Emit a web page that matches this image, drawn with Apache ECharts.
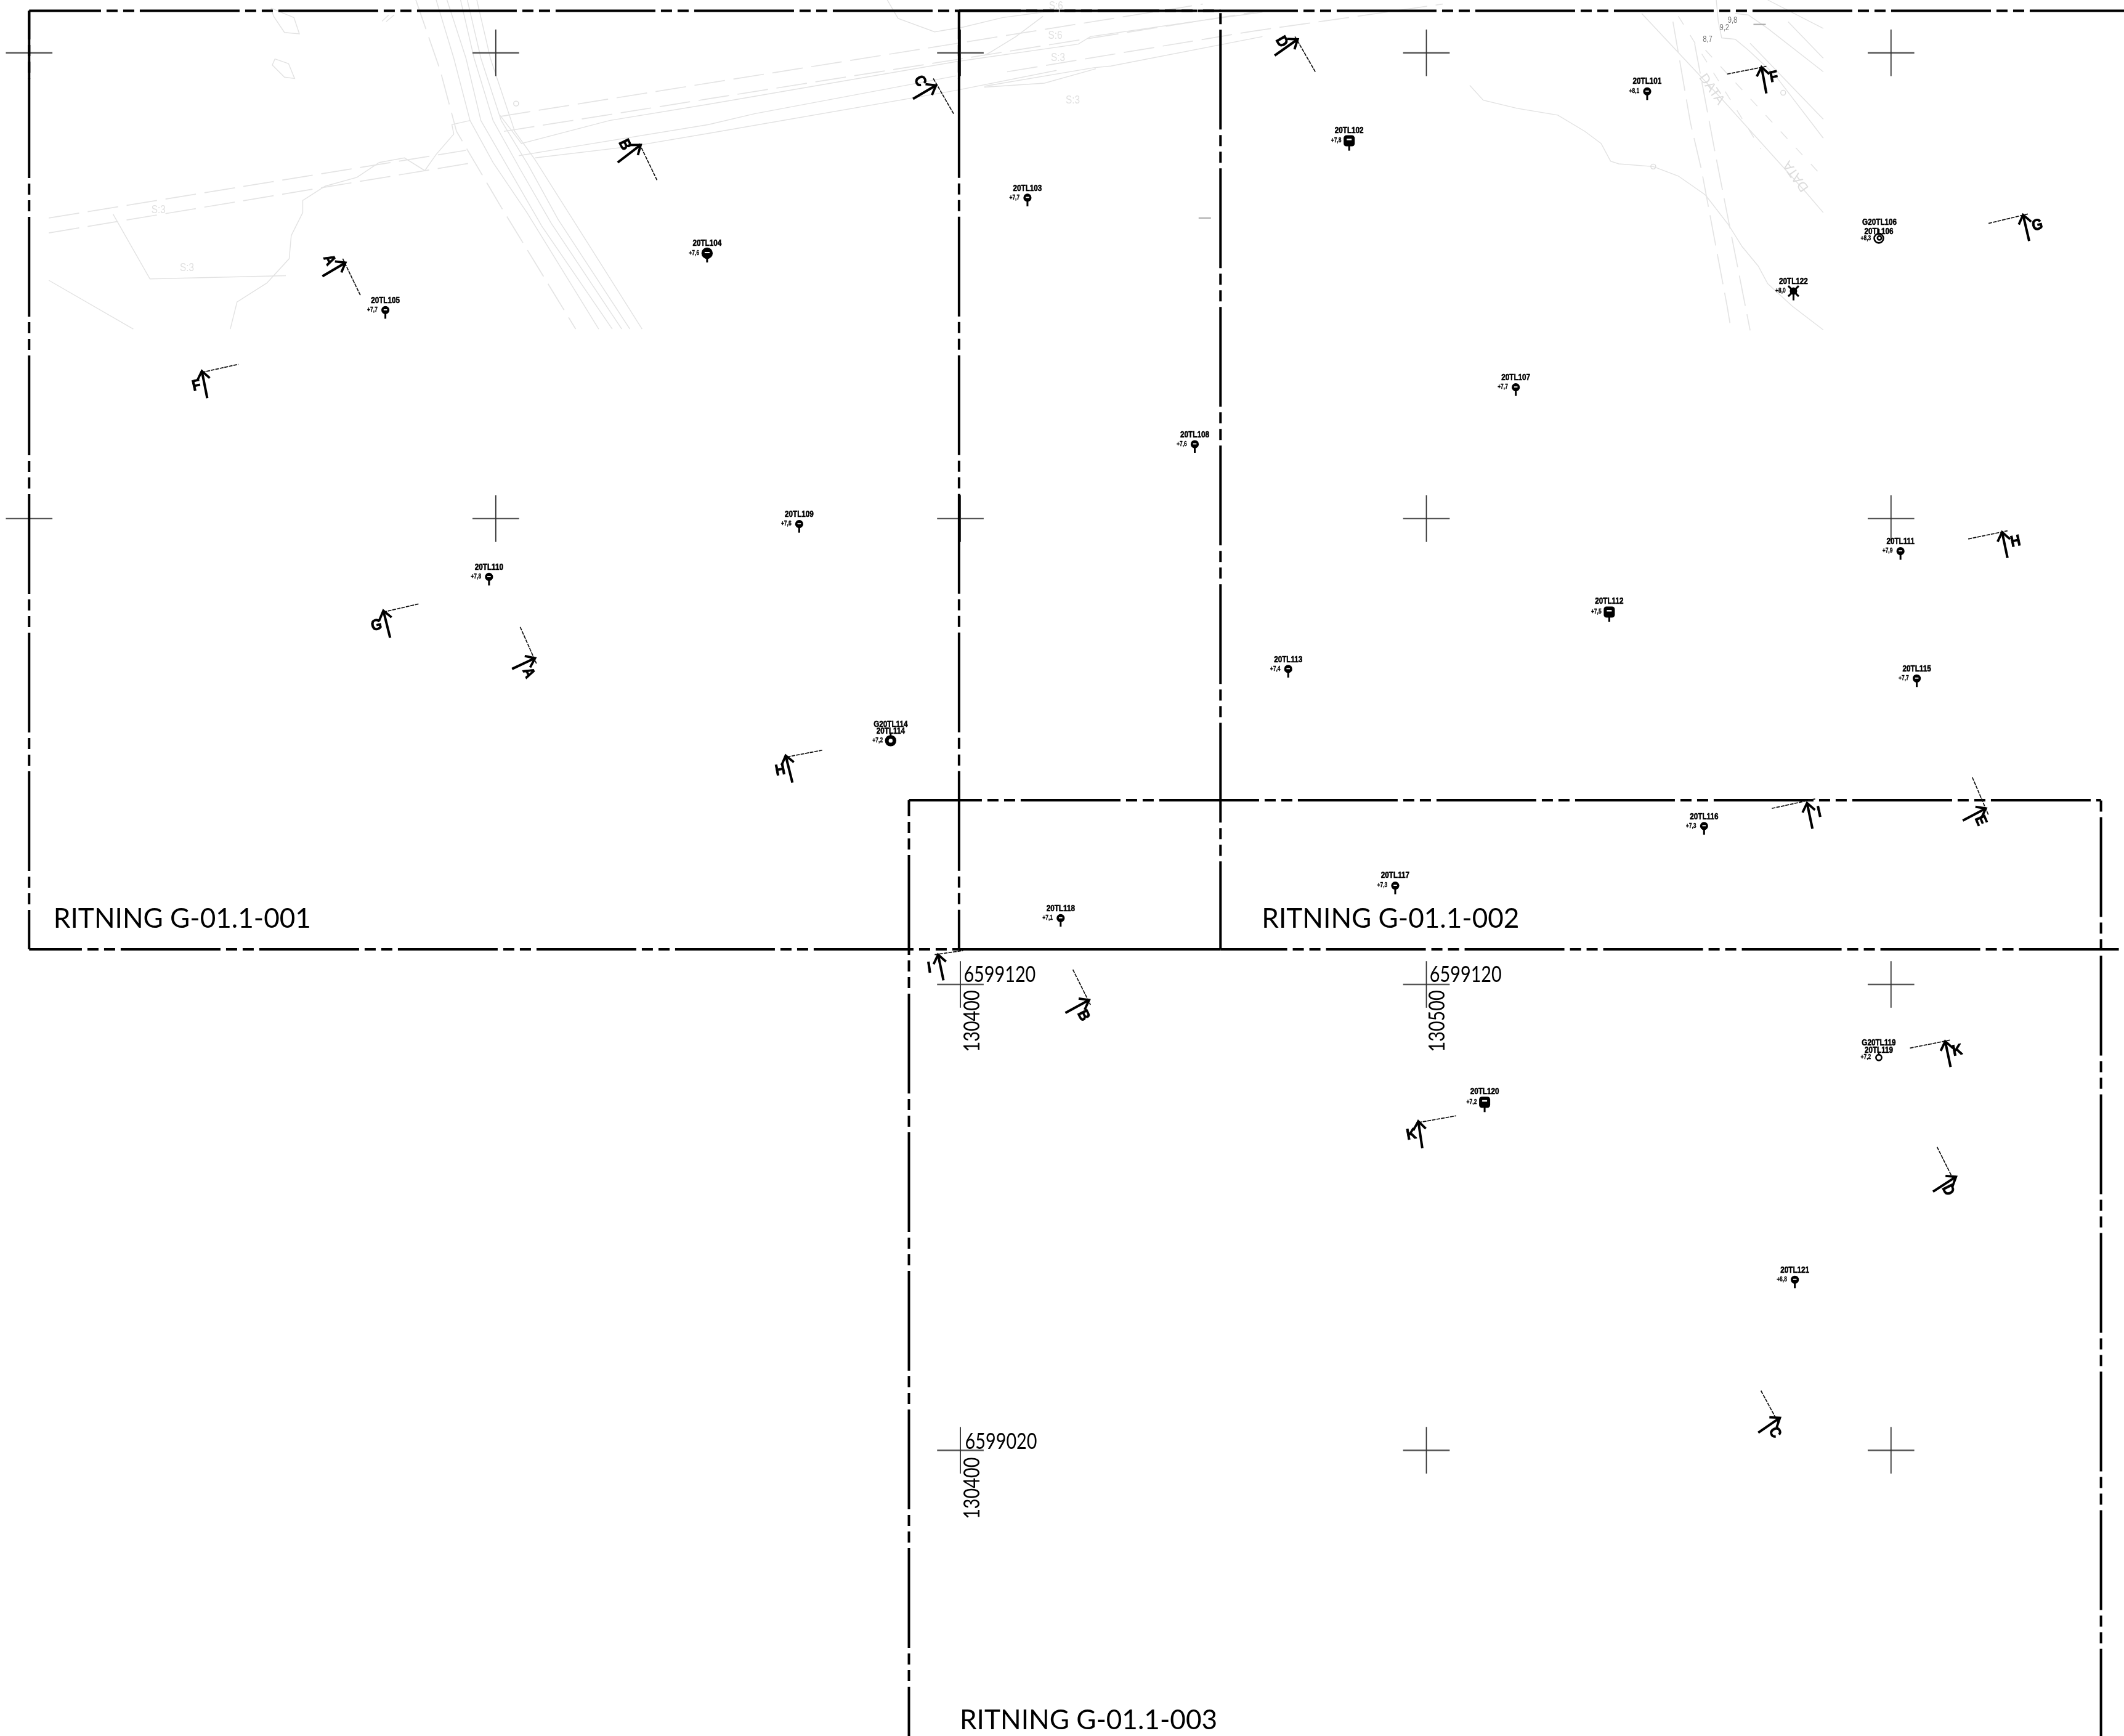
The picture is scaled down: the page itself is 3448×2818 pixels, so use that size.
<!DOCTYPE html>
<html><head><meta charset="utf-8"><style>html,body{margin:0;padding:0;background:#fff}#c{width:3448px;height:2818px}</style>
<script src="https://cdn.jsdelivr.net/npm/echarts@6/dist/echarts.min.js"></script></head>
<body><div id="c"></div><script>
// Plan coordinates (plan units, 0..1568 east, 0..1282 south).
const crossX = [21.5,366,709,1053,1396, 21.5,366,709,1053,1396, 709,1053,1396, 709,1053,1396];
const crossY = [39,39,39,39,39, 383,383,383,383,383, 727,727,727, 1071,1071,1071];

// sheet edges: x1,y1,x2,y2, position along the edge where a long dash begins
const frameEdges = [
 [21.5,8,708,8,103.2],[708,8,1568,8,1498.4],[708,8,901,8,708],
 [21.5,701,708,701,89.1],[901,701,1568,701,978.9],[671,591,1551,591,753.5],
 [21.5,8,21.5,701,57.8],[708,8,708,701,160],[901,8,901,701,22],
 [671,591,671,1282,938.4],[1551,591,1551,1282,603.5]];
const frameSolid = [[21.5,8,21.5,58],[708,8,708,58],[708,701,901,701]];

const sheetTitles = ['RITNING G-01.1-001','RITNING G-01.1-002','RITNING G-01.1-003'];
const sheetTitleX = [39.5,931.5,708.5];
const sheetTitleY = [678.5,678.5,1270.5];

const northLabels = ['6599120','6599120','6599020'];
const northX = [738,1082,739];
const northY = [720,720,1064.5];
const eastLabels = ['130400','130500','130400'];
const eastX = [717.8,1061,717.8];
const eastY = [753,753,1098];

// boreholes
const wellNames = ['20TL101','20TL102','20TL103','20TL104','20TL105','20TL106','20TL107','20TL108','20TL109','20TL110','20TL111','20TL112','20TL113','20TL114','20TL115','20TL116','20TL117','20TL118','20TL119','20TL120','20TL121','20TL122'];
const wellLevels = ['+8,1','+7,8','+7,7','+7,6','+7,7','+8,3','+7,7','+7,6','+7,6','+7,8','+7,9','+7,5','+7,4','+7,2','+7,7','+7,3','+7,3','+7,1','+7,2','+7,2','+6,8','+8,0'];
const wellX = [1216,996,758.5,522,284.5,1387,1119,882,590,361,1403,1188,951,657.5,1415,1258,1030,783,1387,1096,1325,1324];
const wellY = [67.5,104,146,187,229,176,286,328,387,426,407,452,494,547,501,610,654,678,781,814,945,215];
const wellNameY = [60,96.5,139,179.5,222,171,279,321,380,419,400,444,487,540,494,603,646.5,671,775.5,806,938,208];
const wellKinds = ['pin','block','pin','big','pin','double','pin','pin','pin','pin','pin','block','pin','gear','pin','pin','pin','pin','ring','block','pin','cross'];
const groundwaterNames = ['G20TL106','G20TL114','G20TL119'];
const groundwaterX = [1387.5,657.5,1387];
const groundwaterY = [164,535,770];

// section markers
const sectionLetters = ['A','B','C','D','F','G','A','H','I','B','F','G','H','I','E','K','K','D','C'];
const tailX = [238,456,674,941,153,288,378,585,696.5,786.5,1304,1498,1482,1338,1449,1440,1050,1427,1298];
const tailY = [204,120,73,41,294,471,494,578,724,748,69,178,412,612,606,788,848,880,1058];
const headX = [255,473,691,958,149,283,395,580,692.5,804,1300.4,1493.5,1478,1334,1466,1436,1047,1444,1314];
const headY = [194,107,63,29,274,451,486,558,705,738.5,49.5,158.7,393,593,597,769,828,869,1047];
const cutX1 = [253,472,689,956,149,283,384,581,690,792,1275,1468,1453,1308,1456,1410,1047,1430,1300];
const cutY1 = [191,106,58,27,275,452,463,559,705,716,54.7,165,398,597,574,774,829,847,1027];
const cutX2 = [266,485,704,971,176,309,396,607,711,805,1304,1497,1482,1340,1468,1440,1075,1443,1313];
const cutY2 = [218,133,84,53,269,446,490,554,702,742,49,158,392,590,602,768,824,873,1051];
const letterX = [243,461,679,946,145,278,390,576,686,799.6,1309.5,1504,1488,1343,1462,1445,1042,1438,1310];
const letterY = [192,107,60,31,285,462,497,569,715,750,57,166.5,400,600,606,776,838,879,1058];

// faint base map
const baseSolid = [
 [[322,0],[335,43],[347,89],[364,120],[389,157],[442,243]],
 [[330,0],[344,43],[355,89],[374,122],[400,167],[452,243]],
 [[340,0],[350,43],[364,89],[384,125],[407,165],[459,243]],
 [[345,0],[355,43],[370,89],[390,122],[412,162],[465,243]],
 [[352,0],[362,43],[380,97],[395,118],[474,243]],
 [[200,6],[217,13],[221,25],[210,24],[202,12],[200,6]],
 [[203,43.5],[213,47],[217.5,58],[210,57],[201,48],[203,43.5]],
 [[282,15.7],[287,11]],[[285,16],[291,11]],
 [[170,243],[175,223],[197,209],[213.5,191],[215,174],[223.5,157],[223.5,148],[240,137.5],[263.5,131],[280,120],[298.6,116.6],[313.6,126],[322,114],[335,99],[333.6,92],[347,89]],
 [[83.4,158],[110.7,206],[211,203.6]],
 [[36,207],[98.4,243]],
 [[369,85],[385,106],[450,89],[523,77],[706,45.5],[796,32.6],[805,27],[888,15],[932,9]],
 [[383,115],[410,110.5],[523,92],[557,84],[706,56]],
 [[726.6,63.7],[807.5,50],[820,48.8],[932,27]],
 [[726.6,64.4],[771,61.4],[809,50.8]],
 [[395,116.6],[467,108],[523,98.5],[706,66.7],[780,52]],
 [[655,0],[663,13.6],[690,23.5],[711,20],[740,13],[770,9]],
 [[770,12],[750,27],[732,38],[726.6,41]],
 [[1085,63],[1095,74],[1120,80],[1150,85],[1170,97],[1182,106],[1189,119],[1195,121],[1220.5,123],[1239,130],[1259,144],[1276,166],[1286,182],[1298,196.5],[1305,209.5],[1323,226],[1346,243.6]],
 [[1212,10],[1271,73],[1334,143],[1346,157]],
 [[1281,10],[1290.6,11],[1305,21],[1346,53]],
 [[1267,0],[1268.5,16],[1271,28],[1281,29],[1290.6,37],[1310,55],[1346,102]],
 [[1320,16],[1346,43]],[[1305,0],[1346,21]],[[1292,32],[1346,88]]
];
const baseDashed = [
 [[36,161],[344,111]],[[36,172],[350,120]],
 [[369,86],[888,3]],[[372,97],[523,73],[706,44],[932,8]],
 [[743.5,53],[925,23],[1065,3]],
 [[307,0],[325,52],[337,97],[370,153],[425,243]],
 [[1235,16],[1248,91],[1256,125],[1275,226],[1278,244]],
 [[1251,32],[1266,112],[1292,244]]
];
const baseShortDashed = [
 [[1259,37],[1345,130]],
 [[1239,12],[1300,110]]
];
const baseNotes = ['S:3','S:3','S:6','S:6','S:3','S:3'];
const baseNoteX = [117,138,779.6,779,781,792];
const baseNoteY = [155,198,4.5,26.5,43,74];
const spotNotes = ['9,8','9,2','8,7'];
const spotX = [1279,1273,1260.6];
const spotY = [15,20.6,29];
const roadNotes = ['DATA','DATA'];
const roadNoteX = [1263.5,1326];
const roadNoteY = [66,130];
const roadNoteAngle = [55,235];
const tinyRings = [[381,76.5],[1220.5,123],[1316.4,68.5]];
const tinyDashes = [[1299,18],[889.4,161]];

const W=3448,H=2818, k=W/1568;
const PATTERN=[162,9,18,9,18,9], PERIOD=PATTERN.reduce((a,b)=>a+b,0);
const FONT='"Liberation Sans"', THIN='Lato';

function linesSeries(items,lineStyle,z){return {type:'lines',coordinateSystem:'cartesian2d',polyline:true,silent:true,z:z,
  lineStyle:Object.assign({opacity:1,curveness:0},lineStyle),effect:{show:false},
  data:items.map(c=>({coords:c}))};}

function textSeries(xs,ys,texts,o){return {type:'custom',coordinateSystem:'cartesian2d',silent:true,z:o.z||20,clip:false,
  encode:{x:0,y:1},data:xs.map((x,i)=>[x,ys[i]]),
  renderItem:(p,api)=>{const i=p.dataIndex,c=api.coord([api.value(0),api.value(1)]);
    const deg=o.angle?o.angle[i]:(o.rot||0);
    const st={text:texts[i],font:o.font,fill:o.fill||'#000',align:o.align||'center',verticalAlign:'middle'};
    if(o.bold){st.stroke=o.fill||'#000';st.lineWidth=o.bold;}
    return {type:'text',x:c[0]+(o.dx||0)*k,y:c[1]+(o.dy||0)*k,rotation:-deg*Math.PI/180,scaleX:o.sx||1,scaleY:o.sy||1,style:st};}};}

function wellGraphic(kind,c){
 const [x,y]=c, ch=[], blk={fill:'#000'}, wh={fill:'#fff'};
 const circle=(r,s)=>({type:'circle',shape:{cx:x,cy:y,r},style:s});
 const stem=(a,b,w)=>({type:'rect',shape:{x:x-(w||3)/2,y:y+a,width:w||3,height:b-a},style:blk});
 const ring=(cx,cy,r,l)=>({type:'circle',shape:{cx,cy,r},style:{fill:'none',stroke:'#000',lineWidth:l||2.6}});
 if(kind==='pin'){ch.push(stem(0,14),circle(6.6,blk),{type:'rect',shape:{x:x-2.8,y:y-1.4,width:5.6,height:1.8},style:wh});}
 else if(kind==='block'){const r=9;
   ch.push(stem(0,16),{type:'rect',shape:{x:x-r,y:y-r,width:2*r,height:2*r,r:4.5},style:blk},{type:'rect',shape:{x:x-4,y:y-3.5,width:8,height:2.5},style:wh});}
 else if(kind==='big'){ch.push(stem(0,15),circle(9.2,blk),{type:'rect',shape:{x:x-4,y:y-2,width:8,height:2},style:wh});}
 else if(kind==='double'){ch.push(ring(x,y,7.5),ring(x+1,y-0.5,3.2),stem(-15,-6,2.4));}
 else if(kind==='gear'){ch.push(stem(-13,-5,2.8),circle(9.2,blk),circle(3.2,wh));}
 else if(kind==='ring'){ch.push(ring(x,y,4.6),stem(-10,-4,2.4));}
 else if(kind==='cross'){ch.push(stem(0,15),circle(6,blk),
   {type:'line',shape:{x1:x-8.5,y1:y-8.5,x2:x+8.5,y2:y+8.5},style:{stroke:'#000',lineWidth:3}},
   {type:'line',shape:{x1:x+8.5,y1:y-8.5,x2:x-8.5,y2:y+8.5},style:{stroke:'#000',lineWidth:3}});}
 return {type:'group',children:ch};
}

const series=[];
// base map
series.push(linesSeries(baseSolid,{color:'#e2e2e2',width:1.4},1));
series.push(linesSeries(baseDashed,{color:'#e4e4e4',width:1.7,type:[50,14]},1));
series.push(linesSeries(baseShortDashed,{color:'#e2e2e2',width:1.4,type:[16,20]},1));
series.push({type:'custom',coordinateSystem:'cartesian2d',silent:true,z:1,encode:{x:0,y:1},data:tinyRings,
 renderItem:(p,api)=>{const c=api.coord([api.value(0),api.value(1)]);
  return {type:'circle',shape:{cx:c[0],cy:c[1],r:4},style:{fill:'none',stroke:'#dcdcdc',lineWidth:1.4}};}});
series.push({type:'custom',coordinateSystem:'cartesian2d',silent:true,z:2,encode:{x:0,y:1},data:tinyDashes,
 renderItem:(p,api)=>{const c=api.coord([api.value(0),api.value(1)]);
  return {type:'line',shape:{x1:c[0]-10,y1:c[1],x2:c[0]+10,y2:c[1]},style:{stroke:'#aaa',lineWidth:2}};}});
series.push(textSeries(baseNoteX,baseNoteY,baseNotes,{font:'18px '+FONT,fill:'#e0e0e0',z:2,sx:.85}));
series.push(textSeries(spotX,spotY,spotNotes,{font:'15px '+FONT,fill:'#777',z:2,sx:.75}));
series.push(textSeries(roadNoteX,roadNoteY,roadNotes,{font:'22px '+FONT,fill:'#dcdcdc',z:2,angle:roadNoteAngle}));

// coordinate crosses
const crossH=crossX.map((x,i)=>[[x-17.2,crossY[i]],[x+17.2,crossY[i]]]);
const crossV=crossX.map((x,i)=>[[x,crossY[i]-17.2],[x,crossY[i]+17.2]]);
series.push(linesSeries(crossH,{color:'#555',width:2.4},4));
series.push(linesSeries(crossV,{color:'#333',width:1.8},4));

// sheet frames
frameEdges.forEach(e=>{
  const along=(e[1]===e[3])?e[0]:e[1];
  const d=(e[4]-along)*k;
  const off=((PERIOD-d)%PERIOD+PERIOD)%PERIOD;
  series.push(linesSeries([[[e[0],e[1]],[e[2],e[3]]]],{color:'#000',width:4,type:PATTERN,dashOffset:off,cap:'butt'},5));
});
series.push(linesSeries(frameSolid.map(e=>[[e[0],e[1]],[e[2],e[3]]]),{color:'#000',width:4},5));

// section markers
const wing=7.8, ang=37*Math.PI/180;
const arrowItems=sectionLetters.map((_,i)=>[[tailX[i],tailY[i]],[headX[i],headY[i]]]);
const arrowHeads=sectionLetters.map((_,i)=>{
  const dx=tailX[i]-headX[i],dy=tailY[i]-headY[i],l=Math.hypot(dx,dy),ux=dx/l,uy=dy/l;
  const rot=(a)=>[headX[i]+wing*(ux*Math.cos(a)-uy*Math.sin(a)),headY[i]+wing*(ux*Math.sin(a)+uy*Math.cos(a))];
  return [rot(ang),[headX[i],headY[i]],rot(-ang)];
});
series.push(linesSeries(arrowItems,{color:'#000',width:4},8));
series.push(linesSeries(arrowHeads,{color:'#000',width:3.8},8));
series.push(linesSeries(sectionLetters.map((_,i)=>[[cutX1[i],cutY1[i]],[cutX2[i],cutY2[i]]]),{color:'#111',width:1.7,type:[6,1.5]},7));
const letterAngle=sectionLetters.map((_,i)=>Math.atan2(cutY2[i]-cutY1[i],cutX2[i]-cutX1[i])*180/Math.PI);
series.push(textSeries(letterX,letterY,sectionLetters,{font:'bold 25px '+FONT,angle:letterAngle,sx:.9,bold:1}));

// boreholes
series.push({type:'custom',coordinateSystem:'cartesian2d',silent:true,z:10,encode:{x:0,y:1},
  data:wellX.map((x,i)=>[x,wellY[i]]),
  renderItem:(p,api)=>wellGraphic(wellKinds[p.dataIndex],api.coord([api.value(0),api.value(1)]))});
series.push(textSeries(wellX,wellNameY,wellNames,{font:'bold 15px '+FONT,sx:.78,bold:.6}));
series.push(textSeries(wellX,wellY,wellLevels,{font:'bold 10px '+FONT,sx:.85,dx:-9.6,bold:.3}));
series.push(textSeries(groundwaterX,groundwaterY,groundwaterNames,{font:'bold 15px '+FONT,sx:.78,bold:.6}));

// sheet titles and grid labels
series.push(textSeries(sheetTitleX,sheetTitleY,sheetTitles,{font:'400 45px '+THIN,fill:'#000',align:'left',sx:.98}));
series.push(textSeries(northX,northY,northLabels,{font:'400 36px '+THIN,fill:'#000',sx:.8}));
series.push(textSeries(eastX,eastY,eastLabels,{font:'400 36px '+THIN,fill:'#000',sx:.8,rot:-90,dy:1}));

const chart=echarts.init(document.getElementById('c'),null,{renderer:'canvas',width:W,height:H});
chart.setOption({animation:false,backgroundColor:'#fff',
  grid:{left:0,right:0,top:0,bottom:0},
  xAxis:{type:'value',min:0,max:1568,show:false},
  yAxis:{type:'value',min:0,max:1282,inverse:true,show:false},
  series});
</script></body></html>
